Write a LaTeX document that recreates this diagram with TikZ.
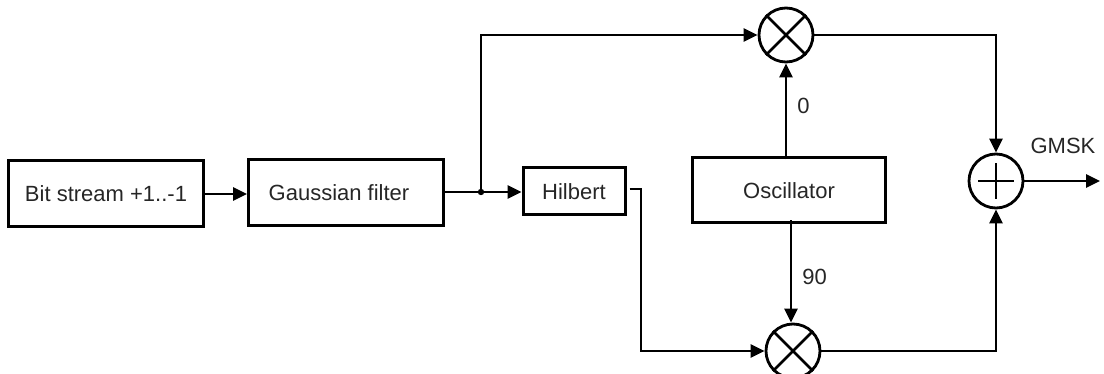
\documentclass[tikz,border=0pt]{standalone}
\usepackage{fontspec}
\setmainfont{Liberation Sans}
\usetikzlibrary{arrows.meta}
\begin{document}
\begin{tikzpicture}[x=1pt,y=-1pt,
  every node/.style={font=\fontsize{22}{26}\selectfont, text=black!85},
  blockbox/.style={draw, line width=3pt, inner sep=0pt},
  mixer/.style={draw, circle, line width=2.8pt, minimum size=54pt, inner sep=0pt},
  wire/.style={line width=2.8pt},
  flow/.style={wire, -{Triangle[length=14pt,width=13pt]}},
  lbl/.style={inner sep=0pt}]
\useasboundingbox (0,0) rectangle (1104,374);

% blocks
\node[blockbox, minimum width=195pt, minimum height=66pt] (bits) at (106,194) {Bit stream +1..-1};
\node[blockbox, minimum width=195pt, minimum height=66pt] (gauss) at (346,193) {\hspace*{-14pt}Gaussian filter};
\node[blockbox, minimum width=102pt, minimum height=47pt] (hilb) at (574,191.5) {Hilbert};
\node[blockbox, minimum width=193pt, minimum height=65pt] (osc) at (789,190.5) {Oscillator};

% mixers and adder
\node[mixer] (mixtop) at (786,35) {};
\node[mixer] (mixbot) at (793,351) {};
\node[mixer] (sum) at (996,181) {};
\draw[wire] (mixtop.north west) -- (mixtop.south east) (mixtop.north east) -- (mixtop.south west);
\draw[wire] (mixbot.north west) -- (mixbot.south east) (mixbot.north east) -- (mixbot.south west);
\draw[wire] ([xshift=-18pt]sum.center) -- ([xshift=18pt]sum.center)
            ([yshift=-18pt]sum.center) -- ([yshift=18pt]sum.center);

% branch point
\coordinate (split) at (481,192);
\fill (split) circle (3.2pt);

% signal paths
\draw[flow] (bits.east) -- (gauss.west |- bits.east);
\draw[wire] (gauss.east |- split) -- (split);
\draw[flow] (split) -- (hilb.west |- split);
\draw[flow] (split) |- (mixtop.west);
\draw[flow] ([yshift=-3pt]osc.north -| mixtop) -- (mixtop.south)
  node[lbl, pos=0.56, right=10pt] {0};
\draw[flow] ([yshift=4pt]osc.south -| 791,0) -- (mixbot.north -| 791,0)
  node[lbl, pos=0.55, right=10pt] {90};
\coordinate (hbend) at (641,189);
\draw[flow] ([xshift=3pt]hilb.east |- hbend) -- (hbend) |- (mixbot.west);
\draw[flow] (mixtop.east) -| (sum.north);
\draw[flow] (mixbot.east) -| (sum.south);
\coordinate (out) at (1100,181);
\draw[flow] (sum.east) -- (out);
\node[lbl] (gmsk) at (1063,146) {GMSK};
\end{tikzpicture}
\end{document}
